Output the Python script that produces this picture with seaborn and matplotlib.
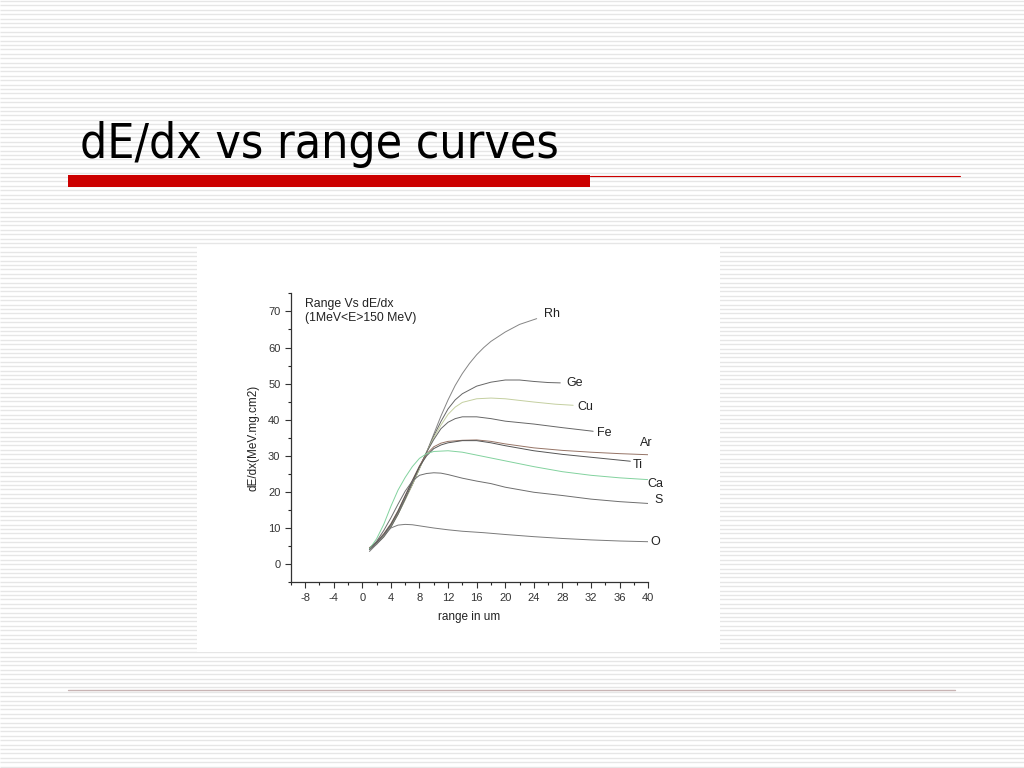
import numpy as np
import pandas as pd
import matplotlib
matplotlib.use("Agg")
import matplotlib.pyplot as plt
from matplotlib.patches import Rectangle
from matplotlib.ticker import MultipleLocator
from matplotlib import font_manager
import seaborn as sns

# curves: range (um) vs dE/dx (MeV.mg.cm2)
rh_x = [1, 2, 3, 4, 5, 6, 7, 8, 9, 10, 11, 12, 13, 14, 15, 16, 17, 18, 20, 22, 24.4]
rh_y = [4.5, 6, 8, 10.5, 14, 18, 22, 26.5, 31, 36, 41, 45.5, 49.5, 52.8, 55.6, 58, 60, 61.7, 64.3, 66.4, 68]

ge_x = [1, 2, 3, 4, 5, 6, 7, 8, 9, 10, 11, 12, 13, 14, 16, 18, 20, 22, 24, 26, 27.7]
ge_y = [4.2, 5.8, 7.8, 10.5, 14, 18, 22, 26.5, 31, 35.5, 39.5, 43, 45.5, 47.2, 49.3, 50.4, 51, 51, 50.6, 50.3, 50.2]

cu_x = [1, 2, 3, 4, 5, 6, 7, 8, 9, 10, 11, 12, 13, 14, 16, 18, 20, 24, 27, 29.5]
cu_y = [4, 5.6, 7.6, 10.3, 13.8, 17.8, 22, 26.5, 31, 35, 38.5, 41.5, 43.5, 44.8, 45.8, 46, 45.8, 44.9, 44.3, 44]

fe_x = [1, 2, 3, 4, 5, 6, 7, 8, 9, 10, 11, 12, 13, 14, 16, 18, 20, 24, 28, 32.3]
fe_y = [4, 5.5, 7.5, 10.2, 13.8, 18, 22.5, 27, 31, 34.5, 37.5, 39.3, 40.3, 40.8, 40.8, 40.3, 39.6, 38.8, 37.8, 36.8]

ar_x = [1, 2, 3, 4, 5, 6, 7, 8, 9, 10, 11, 12, 14, 16, 18, 20, 24, 28, 32, 36, 40]
ar_y = [4.5, 6.2, 8.4, 11.2, 14.8, 19, 23.2, 27.2, 30.5, 32.5, 33.5, 34, 34.3, 34.4, 34, 33.3, 32.2, 31.5, 31, 30.6, 30.3]

ti_x = [1, 2, 3, 4, 5, 6, 7, 8, 9, 10, 11, 12, 14, 16, 18, 20, 24, 28, 32, 37.5]
ti_y = [4.3, 6, 8.2, 11, 14.6, 18.8, 23, 27, 30, 32, 33, 33.6, 34.2, 34.2, 33.6, 32.8, 31.4, 30.4, 29.6, 28.5]

ca_x = [1, 2, 3, 4, 5, 6, 7, 8, 9, 10, 12, 14, 16, 18, 20, 24, 28, 32, 36, 40]
ca_y = [4.2, 7, 11, 16, 20.5, 24, 27, 29.3, 30.6, 31.2, 31.4, 31, 30.2, 29.4, 28.6, 27, 25.6, 24.6, 23.9, 23.4]

s_x = [1, 2, 3, 4, 5, 6, 7, 8, 9, 10, 11, 12, 14, 16, 18, 20, 24, 28, 32, 36, 40]
s_y = [4, 6.3, 9.3, 12.8, 16.6, 20.2, 23, 24.6, 25.1, 25.3, 25.2, 24.8, 23.8, 23, 22.3, 21.3, 19.9, 19, 18, 17.3, 16.8]

o_x = [1, 2, 3, 4, 5, 6, 7, 8, 10, 12, 14, 17, 20, 24, 28, 32, 36, 40]
o_y = [3.5, 5.5, 8, 10, 10.8, 11, 10.9, 10.6, 10, 9.5, 9.1, 8.7, 8.2, 7.6, 7.1, 6.7, 6.4, 6.2]

ions = ["Rh", "Ge", "Cu", "Fe", "Ar", "Ti", "Ca", "S", "O"]
curves = {
    "Rh": (rh_x, rh_y), "Ge": (ge_x, ge_y), "Cu": (cu_x, cu_y),
    "Fe": (fe_x, fe_y), "Ar": (ar_x, ar_y), "Ti": (ti_x, ti_y),
    "Ca": (ca_x, ca_y), "S": (s_x, s_y), "O": (o_x, o_y),
}
colors = {
    "Rh": "#858585", "Ge": "#666666", "Cu": "#c4cfa0", "Fe": "#666666",
    "Ar": "#967466", "Ti": "#555555", "Ca": "#82d29e", "S": "#6e6e6e", "O": "#7a7a7a",
}
# label offsets in pixels from the end of each curve
label_offsets = {
    "Rh": (7, 5), "Ge": (6, 0), "Cu": (4, -2), "Fe": (4, -2), "Ar": (-8, 12),
    "Ti": (2, -4), "Ca": (-1, -4), "S": (6, 3), "O": (2, 0),
}

rows = []
for ion in ions:
    xs, ys = curves[ion]
    for x, y in zip(xs, ys):
        rows.append({"ion": ion, "range": x, "dedx": y})
df = pd.DataFrame(rows)

sns.set_theme(style="ticks")
plt.rcParams["font.family"] = ["Liberation Sans", "DejaVu Sans"]
plt.rcParams["axes.unicode_minus"] = False

fig = plt.figure(figsize=(10.24, 7.68), dpi=100)
fig.patch.set_facecolor("white")

# slide background with stripes
bg = fig.add_axes([0, 0, 1, 1])
bg.set_xlim(0, 1024)
bg.set_ylim(768, 0)
bg.axis("off")
bg.hlines(np.arange(1, 768, 4.4), 0, 1024, colors="#e6e6e6", linewidth=1.0, zorder=0)
bg.add_patch(Rectangle((197, 245), 523, 407, facecolor="white", edgecolor="none", zorder=2))
bg.add_patch(Rectangle((68, 175), 522, 12, facecolor="#cc0000", edgecolor="none", zorder=2))
bg.plot([590, 960], [175.5, 175.5], color="#cc0000", linewidth=0.8, zorder=2)
bg.plot([68, 955], [690, 690], color="#c8b4b4", linewidth=1.0, zorder=2)

# condensed face for the slide title, if one is installed
title_family = ["DejaVu Sans"]
names = {f.name for f in font_manager.fontManager.ttflist}
for cand in ["Liberation Sans Narrow", "DejaVu Sans Condensed"]:
    if cand in names:
        title_family = [cand]
        break
bg.text(80, 158, "dE/dx vs range curves", fontsize=34.5, family=title_family,
        fontstretch="condensed", va="baseline", color="black", zorder=3)

ax = fig.add_axes([0.284, 0.242, 0.349, 0.376])
ax.set_facecolor("none")
sns.lineplot(data=df, x="range", y="dedx", hue="ion", palette=colors, legend=False,
             sort=False, estimator=None, linewidth=0.7, ax=ax)

for ion in ions:
    xs, ys = curves[ion]
    ax.annotate(ion, xy=(xs[-1], ys[-1]), xytext=label_offsets[ion],
                textcoords="offset pixels", ha="left", va="center",
                fontsize=9, color="#222222")

ax.set_xlim(-10, 40)
ax.set_ylim(-5, 75)
ax.xaxis.set_major_locator(MultipleLocator(4))
ax.xaxis.set_minor_locator(MultipleLocator(2))
ax.yaxis.set_major_locator(MultipleLocator(10))
ax.yaxis.set_minor_locator(MultipleLocator(5))
ax.set_xticks(np.arange(-8, 41, 4))
ax.set_yticks(np.arange(0, 71, 10))
ax.tick_params(which="major", direction="out", length=4, width=0.8, labelsize=8, colors="#333333")
ax.tick_params(which="minor", direction="out", length=2.5, width=0.8)
sns.despine(ax=ax)
for sp in ["left", "bottom"]:
    ax.spines[sp].set_color("#333333")
    ax.spines[sp].set_linewidth(0.9)

ax.set_xlabel("range in um", fontsize=8.5, color="#222222", labelpad=6)
ax.set_ylabel("dE/dx(MeV.mg.cm2)", fontsize=8.5, color="#222222", labelpad=6)
ax.text(0.04, 0.985, "Range Vs dE/dx\n(1MeV<E>150 MeV)", transform=ax.transAxes,
        fontsize=8.8, va="top", ha="left", color="#222222", linespacing=1.3)

fig.savefig("out.png", dpi=100)
